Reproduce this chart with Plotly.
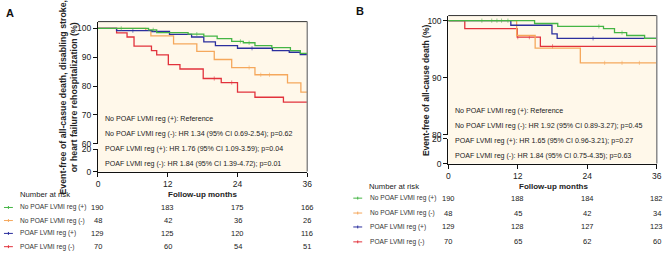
import plotly.graph_objects as go

W, H = 669, 256

# ---------------- data ----------------
groups = ["No POAF LVMI reg (+)", "No POAF LVMI reg (-)", "POAF LVMI reg (+)", "POAF LVMI reg (-)"]
colors = ["#45b545", "#f5a85c", "#2b2f9e", "#e2323c"]

# Panel A: composite endpoint (months, % event-free)
a_green_t = [0, 8.7, 10.1, 15.5, 18.2, 20.5, 23.0, 25.0, 27.0, 29.9, 33.1, 34.8, 36]
a_green_s = [100, 99.5, 98.5, 98.0, 97.3, 96.4, 95.5, 95.0, 94.0, 93.3, 92.3, 91.3, 91.3]
a_orange_t = [0, 8.2, 9.1, 13.0, 17.0, 20.0, 23.0, 27.0, 32.6, 34.9, 36]
a_orange_s = [100, 99.3, 97.4, 94.6, 92.0, 89.2, 86.4, 83.9, 81.1, 77.9, 77.9]
a_blue_t = [0, 3.2, 9.3, 12.3, 16.1, 18.2, 20.2, 24.0, 30.0, 32.9, 34.8, 36]
a_blue_s = [100, 99.2, 98.9, 97.9, 97.0, 95.3, 94.0, 93.1, 92.3, 91.7, 90.9, 90.9]
a_red_t = [0, 3.2, 5.0, 6.2, 9.2, 10.1, 12.1, 14.1, 18.1, 21.2, 24.0, 27.0, 31.9, 36]
a_red_s = [100, 98.4, 97.0, 93.8, 92.3, 90.8, 87.4, 85.9, 82.6, 81.2, 77.9, 76.1, 74.4, 74.4]

# Panel B: all-cause death
b_green_t = [0, 14.9, 18.9, 26.8, 28.7, 30.8, 33.9, 36]
b_green_s = [100, 99.5, 99.0, 98.6, 97.9, 97.4, 96.9, 96.9]
b_orange_t = [0, 11.8, 15.0, 22.8, 36]
b_orange_s = [100, 97.4, 95.2, 92.6, 92.6]
b_blue_t = [0, 10.8, 17.9, 18.8, 36]
b_blue_s = [100, 99.2, 97.7, 96.9, 96.9]
b_red_t = [0, 2.85, 11.9, 15.9, 36]
b_red_s = [100, 98.6, 97.1, 95.5, 95.5]

# censoring marks (months)
a_cens = [[4.0, 9.5, 17.0, 24.5, 26.0], [26.0, 28.0, 29.5], [6.0, 26.5], [20.0, 23.0]]
b_cens = [[5.8, 7.5, 8.4, 9.2, 10.3, 26.0, 30.0], [27.0, 30.0, 33.0], [25.0], [12.0, 14.0, 18.0]]

risk_times = [0, 12, 24, 36]
a_risk = [[190, 183, 175, 166], [48, 42, 36, 26], [129, 125, 120, 116], [70, 60, 54, 51]]
b_risk = [[190, 188, 184, 182], [48, 45, 42, 34], [129, 128, 127, 123], [70, 65, 62, 60]]

a_hr = ["No POAF LVMI reg (+): Reference",
        "No POAF LVMI reg (-): HR 1.34 (95% CI 0.69-2.54); p=0.62",
        "POAF LVMI reg (+): HR 1.76 (95% CI 1.09-3.59); p=0.04",
        "POAF LVMI reg (-): HR 1.84 (95% CI 1.39-4.72); p=0.01"]
b_hr = ["No POAF LVMI reg (+): Reference",
        "No POAF LVMI reg (-): HR 1.92 (95% CI 0.89-3.27); p=0.45",
        "POAF LVMI reg (+): HR 1.65 (95% CI 0.96-3.21); p=0.27",
        "POAF LVMI reg (-): HR 1.84 (95% CI 0.75-4.35); p=0.63"]

a_ylabel = "Event-free of all-casue death, disabling stroke,<br>or heart failure rehospitalization (%)"
b_ylabel = "Event-free of all-cause death (%)"
x_title = "Follow-up months"

FONT = "Liberation Sans, Arial, sans-serif"


def px(x):
    return x / W


def py(y):
    return 1 - y / H


def step_value(ts, ss, t):
    v = ss[0]
    for ti, si in zip(ts, ss):
        if ti <= t:
            v = si
    return v


fig = go.Figure()

a_series = [(a_green_t, a_green_s), (a_orange_t, a_orange_s), (a_blue_t, a_blue_s), (a_red_t, a_red_s)]
b_series = [(b_green_t, b_green_s), (b_orange_t, b_orange_s), (b_blue_t, b_blue_s), (b_red_t, b_red_s)]

order = [3, 1, 2, 0]
for i in order:
    t, s = a_series[i]
    fig.add_trace(go.Scatter(x=t, y=s, mode="lines", line=dict(color=colors[i], width=1.3, shape="hv"),
                             xaxis="x", yaxis="y", showlegend=False, hoverinfo="skip"))
    fig.add_trace(go.Scatter(x=a_cens[i], y=[step_value(t, s, c) for c in a_cens[i]], mode="markers",
                             marker=dict(symbol="line-ns", size=3, line=dict(color=colors[i], width=0.8)),
                             opacity=0.7, xaxis="x", yaxis="y", showlegend=False, hoverinfo="skip"))
for i in order:
    t, s = b_series[i]
    fig.add_trace(go.Scatter(x=t, y=s, mode="lines", line=dict(color=colors[i], width=1.3, shape="hv"),
                             xaxis="x2", yaxis="y3", showlegend=False, hoverinfo="skip"))
    fig.add_trace(go.Scatter(x=b_cens[i], y=[step_value(t, s, c) for c in b_cens[i]], mode="markers",
                             marker=dict(symbol="line-ns", size=3, line=dict(color=colors[i], width=0.8)),
                             opacity=0.7, xaxis="x2", yaxis="y3", showlegend=False, hoverinfo="skip"))

# dummy traces so bottom axes render
fig.add_trace(go.Scatter(x=[0], y=[-5], mode="markers", marker=dict(opacity=0), xaxis="x", yaxis="y2",
                         showlegend=False, hoverinfo="skip"))
fig.add_trace(go.Scatter(x=[0], y=[-5], mode="markers", marker=dict(opacity=0), xaxis="x2", yaxis="y4",
                         showlegend=False, hoverinfo="skip"))

# geometry (pixels)
A = dict(x0=97, x1=308.5, top=17.3, y100=24.3, y60=144.3, b20=150, b0=173.3)
B = dict(x0=451, x1=661.7, top=11, y100=16.3, y80=135, b20=139, b0=165)

a_top_range = [60, 100 + (A["y100"] - A["top"]) * 40 / (A["y60"] - A["y100"])]
b_top_range = [80, 100 + (B["y100"] - B["top"]) * 20 / (B["y80"] - B["y100"])]

tickfont = dict(family=FONT, size=8.5, color="#222")
yax_common = dict(showgrid=False, zeroline=False, showline=True, linecolor="#111", linewidth=1,
                  ticks="outside", ticklen=4, tickcolor="#111", tickwidth=1, tickfont=tickfont)

fig.update_layout(
    width=W, height=H, margin=dict(l=0, r=0, t=0, b=0),
    paper_bgcolor="white", plot_bgcolor="rgba(0,0,0,0)",
    font=dict(family=FONT, color="#222"),
    xaxis=dict(domain=[px(A["x0"]), px(A["x1"])], range=[0, 36], anchor="y2",
               tickvals=risk_times, showgrid=False, zeroline=False, showline=True, linecolor="#111",
               linewidth=1, ticks="outside", ticklen=4, tickcolor="#111", tickfont=tickfont),
    yaxis=dict(domain=[py(A["y60"]), py(A["top"])], range=a_top_range, anchor="x",
               tickvals=[60, 70, 80, 90, 100], **yax_common),
    yaxis2=dict(domain=[py(A["b0"]), py(A["b20"])], range=[0, 20], anchor="x",
                tickvals=[0, 20], **yax_common),
    xaxis2=dict(domain=[px(B["x0"]), px(B["x1"])], range=[0, 36], anchor="y4",
                tickvals=risk_times, showgrid=False, zeroline=False, showline=True, linecolor="#111",
                linewidth=1, ticks="outside", ticklen=4, tickcolor="#111", tickfont=tickfont),
    yaxis3=dict(domain=[py(B["y80"]), py(B["top"])], range=b_top_range, anchor="x2",
                tickvals=[80, 90, 100], **yax_common),
    yaxis4=dict(domain=[py(B["b0"]), py(B["b20"])], range=[0, 20], anchor="x2",
                tickvals=[0, 20], **yax_common),
)

shapes = []
for P in (A, B):
    bottom = P["b0"]
    shapes.append(dict(type="rect", xref="paper", yref="paper", x0=px(P["x0"]), x1=px(P["x1"]),
                       y0=py(bottom), y1=py(P["top"]), fillcolor="#fff8ea", line=dict(width=0),
                       layer="below"))
    shapes.append(dict(type="line", xref="paper", yref="paper", x0=px(P["x0"]), x1=px(P["x1"]),
                       y0=py(P["top"]), y1=py(P["top"]), line=dict(color="#333", width=1)))
    shapes.append(dict(type="line", xref="paper", yref="paper", x0=px(P["x1"]), x1=px(P["x1"]),
                       y0=py(bottom), y1=py(P["top"]), line=dict(color="#8a8a8a", width=1.5)))

annotations = []
# panel letters
annotations.append(dict(text="<b>A</b>", x=px(2), y=py(8), xref="paper", yref="paper", xanchor="left",
                        yanchor="middle", showarrow=False, font=dict(size=11, color="#111")))
annotations.append(dict(text="<b>B</b>", x=px(356), y=py(6), xref="paper", yref="paper", xanchor="left",
                        yanchor="middle", showarrow=False, font=dict(size=11, color="#111")))
# y labels
annotations.append(dict(text="<b>" + a_ylabel.replace("<br>", "</b><br><b>") + "</b>", x=px(67), y=py(96),
                        xref="paper", yref="paper", textangle=-90, showarrow=False,
                        font=dict(size=8.8, color="#222"), xanchor="center", yanchor="middle"))
annotations.append(dict(text="<b>" + b_ylabel + "</b>", x=px(428), y=py(89), xref="paper", yref="paper",
                        textangle=-90, showarrow=False, font=dict(size=8.5, color="#222"),
                        xanchor="center", yanchor="middle"))
# x titles and Number at risk
annotations.append(dict(text="<b>" + x_title + "</b>", x=px(203), y=py(197), xref="paper", yref="paper",
                        showarrow=False, font=dict(size=8, color="#222"), xanchor="center", yanchor="middle"))
annotations.append(dict(text="<b>" + x_title + "</b>", x=px(557), y=py(189), xref="paper", yref="paper",
                        showarrow=False, font=dict(size=8, color="#222"), xanchor="center", yanchor="middle"))
annotations.append(dict(text="Number at risk", x=px(16.5), y=py(197), xref="paper", yref="paper",
                        showarrow=False, font=dict(size=7.7, color="#222"), xanchor="left", yanchor="middle"))
annotations.append(dict(text="Number at risk", x=px(369), y=py(189), xref="paper", yref="paper",
                        showarrow=False, font=dict(size=7.7, color="#222"), xanchor="left", yanchor="middle"))

# HR texts
for k, (ya, yb) in enumerate(zip([119, 134, 149.5, 165], [110, 126, 141.7, 156.7])):
    annotations.append(dict(text=a_hr[k], x=px(102.5), y=py(ya), xref="paper", yref="paper", showarrow=False,
                            font=dict(size=7.1, color="#222"), xanchor="left", yanchor="middle"))
    annotations.append(dict(text=b_hr[k], x=px(456), y=py(yb), xref="paper", yref="paper", showarrow=False,
                            font=dict(size=7.1, color="#222"), xanchor="left", yanchor="middle"))

# risk tables
a_rows = [210.7, 224.3, 237.7, 251.5]
b_rows = [201, 216.5, 231, 246.5]
for g in range(4):
    for xref, rows, lx, dx0, dx1, risk in (("x", a_rows, 16, 2, 11, a_risk), ("x2", b_rows, 370, 355, 364, b_risk)):
        yy = rows[g]
        annotations.append(dict(text=groups[g], x=px(lx), y=py(yy), xref="paper", yref="paper", showarrow=False,
                                font=dict(size=6.6, color="#333"), xanchor="left", yanchor="middle"))
        shapes.append(dict(type="line", xref="paper", yref="paper", x0=px(dx0), x1=px(dx1), y0=py(yy), y1=py(yy),
                           line=dict(color=colors[g], width=1)))
        shapes.append(dict(type="line", xref="paper", yref="paper", x0=px((dx0 + dx1) / 2), x1=px((dx0 + dx1) / 2),
                           y0=py(yy - 1.5), y1=py(yy + 1.5), line=dict(color=colors[g], width=1)))
        for j, t in enumerate(risk_times):
            annotations.append(dict(text=str(risk[g][j]), x=t, y=py(yy), xref=xref, yref="paper", showarrow=False,
                                    font=dict(size=7.5, color="#222"), xanchor="center", yanchor="middle"))

fig.update_layout(shapes=shapes, annotations=annotations)
fig.write_html("out.html", config={"displayModeBar": False},
               post_script="document.body.style.margin='0';document.body.style.padding='0';")
